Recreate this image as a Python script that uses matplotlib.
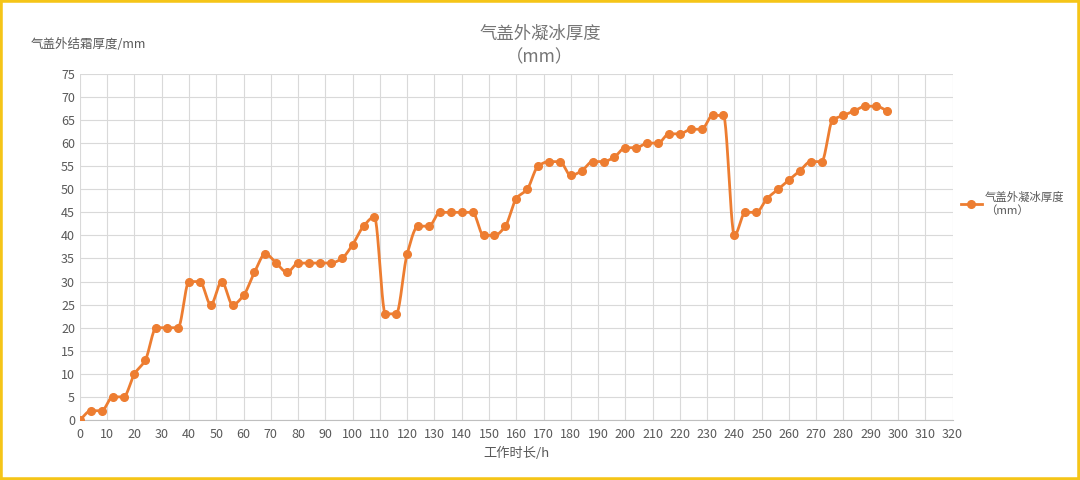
import numpy as np
import matplotlib
matplotlib.use("Agg")
import matplotlib.pyplot as plt
from matplotlib.lines import Line2D
from matplotlib.patches import Rectangle

plt.rcParams['font.family'] = ['Noto Sans CJK SC', 'DejaVu Sans']

hours = list(range(0, 300, 4))
thickness = [0, 2, 2, 5, 5, 10, 13, 20, 20, 20,
             30, 30, 25, 30, 25, 27, 32, 36, 34, 32,
             34, 34, 34, 34, 35, 38, 42, 44, 23, 23,
             36, 42, 42, 45, 45, 45, 45, 40, 40, 42,
             48, 50, 55, 56, 56, 53, 54, 56, 56, 57,
             59, 59, 60, 60, 62, 62, 63, 63, 66, 66,
             40, 45, 45, 48, 50, 52, 54, 56, 56, 65,
             66, 67, 68, 68, 67]
x_ticks = list(range(0, 321, 10))
y_ticks = list(range(0, 76, 5))
title = "气盖外凝冰厚度\n（mm）"
series_label = "气盖外凝冰厚度\n（mm）"
y_label = "气盖外结霜厚度/mm"
x_label = "工作时长/h"

ORANGE = "#ED7D31"
GRAY = "#595959"


def smooth(x, y, n=24):
    """Monotone cubic (PCHIP-like) rendering of the line."""
    x = np.asarray(x, float); y = np.asarray(y, float)
    h = np.diff(x); d = np.diff(y) / h
    m = np.zeros_like(y)
    for i in range(1, len(y) - 1):
        if d[i - 1] * d[i] <= 0:
            m[i] = 0
        else:
            w1 = 2 * h[i] + h[i - 1]; w2 = h[i] + 2 * h[i - 1]
            m[i] = (w1 + w2) / (w1 / d[i - 1] + w2 / d[i])
    m[0] = d[0]; m[-1] = d[-1]
    xs, ys = [], []
    t = np.linspace(0, 1, n, endpoint=False)
    for i in range(len(x) - 1):
        h00 = 2 * t**3 - 3 * t**2 + 1; h10 = t**3 - 2 * t**2 + t
        h01 = -2 * t**3 + 3 * t**2; h11 = t**3 - t**2
        xs.extend(x[i] + t * h[i])
        ys.extend(h00 * y[i] + h10 * h[i] * m[i] + h01 * y[i + 1] + h11 * h[i] * m[i + 1])
    xs.append(x[-1]); ys.append(y[-1])
    return np.array(xs), np.array(ys)


fig = plt.figure(figsize=(10.8, 4.8), dpi=100)
ax = fig.add_axes([0.074, 0.125, 0.808, 0.721])

sx, sy = smooth(hours, thickness)
ax.plot(sx, sy, color=ORANGE, lw=2, zorder=3)
ax.plot(hours, thickness, 'o', color=ORANGE, ms=5.5, zorder=4)

ax.set_xlim(0, 320)
ax.set_ylim(0, 75)
ax.set_xticks(x_ticks)
ax.set_yticks(y_ticks)
ax.grid(True, color="#D9D9D9", lw=0.8)
ax.set_axisbelow(True)
for s in ['top', 'right', 'left']:
    ax.spines[s].set_visible(False)
ax.spines['bottom'].set_color("#BFBFBF")
ax.tick_params(length=0, colors=GRAY, labelsize=9)
ax.tick_params(axis='x', pad=6)

fig.text(0.5, 0.905, title, ha='center', va='center', fontsize=12.5, color="#757575",
         linespacing=1.4)
fig.text(0.028, 0.908, y_label, ha='left', va='center', fontsize=9, color=GRAY)
ax.set_xlabel(x_label, fontsize=9.5, color=GRAY, labelpad=4)

hnd = Line2D([], [], color=ORANGE, lw=2, marker='o', ms=5.5)
leg = fig.legend([hnd], [series_label], loc='center left', bbox_to_anchor=(0.89, 0.575),
                 frameon=False, fontsize=8.2, handlelength=1.8, handletextpad=0.3,
                 labelcolor=GRAY, borderaxespad=0, borderpad=0)

fig.patches.append(Rectangle((0, 0), 1, 1, transform=fig.transFigure, fill=False,
                             edgecolor="#F5C518", lw=4))

fig.savefig("out.png", dpi=100)
